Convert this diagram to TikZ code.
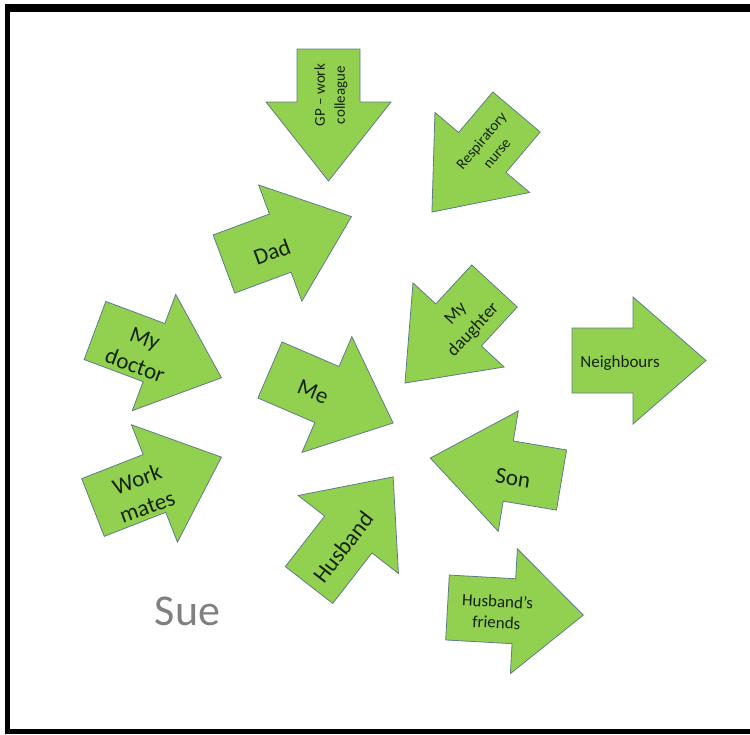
\documentclass[tikz,border=0pt]{standalone}
\usepackage{fontspec}
\setmainfont{Carlito}
\definecolor{arrowfill}{RGB}{146,208,80}
\definecolor{arrowline}{RGB}{95,125,135}
\definecolor{labelc}{RGB}{20,35,10}
\definecolor{suegray}{RGB}{128,128,128}
% name, x, y (tail centre), angle, length, head length, half shaft width, half head width
\newcommand{\grarrow}[8]{%
  \begin{scope}[shift={(#2,#3)},rotate=#4]
    \coordinate (#1) at (0,0);
    \draw[arrowbody] (0,-#7) -- ({#5-#6},-#7) -- ({#5-#6},-#8) -- (#5,0)
      -- ({#5-#6},#8) -- ({#5-#6},#7) -- (0,#7) -- cycle;
  \end{scope}}
\begin{document}
\begin{tikzpicture}[x=1pt,y=-1pt,
  arrowbody/.style={fill=arrowfill,draw=arrowline,line width=0.8pt,line join=miter},
  lbl/.style={text=labelc,align=center,inner sep=0pt},
  bigtxt/.style={font=\fontsize{23}{29}\selectfont},
  smalltxt/.style={font=\fontsize{15}{20}\selectfont}]
\useasboundingbox (0,0) rectangle (750,734);
\fill[white] (0,0) rectangle (750,734);
% frame
\fill[black] (5,4) rectangle (750,12);
\fill[black] (5,4) rectangle (10,734);
\fill[black] (5,729) rectangle (750,734);
% arrows
\grarrow{agp}{328.5}{49}{-90}{132}{79}{31.5}{62.5}
\grarrow{aresp}{516.5}{112}{-130.2}{131}{78}{31}{62}
\grarrow{adad}{224}{264}{20.4}{136}{76}{31}{62}
\grarrow{adoc}{95}{330.5}{-20.5}{135}{72}{31}{62}
\grarrow{ame}{270}{370}{-23.3}{134}{72}{30.5}{63}
\grarrow{awork}{93}{507.5}{21.4}{138}{72}{31}{63}
\grarrow{adau}{494.5}{286}{-132.7}{132}{79}{31}{62}
\grarrow{anei}{572}{360.5}{0}{134}{73}{32.5}{63.5}
\grarrow{ason}{561.5}{480}{170.5}{133}{79}{30.5}{61}
\grarrow{ahus}{309}{585}{52.1}{137}{73}{30}{63.5}
\grarrow{ahf}{447.5}{607.5}{-3.2}{136}{69.5}{32.5}{62.5}
% labels
\node[lbl,smalltxt,rotate=90] (tgp) at (331,95) {GP – work\\colleague};
\node[lbl,smalltxt,rotate=50] (tresp) at (489,147) {Respiratory\\nurse};
\node[lbl,bigtxt,rotate=20] (tdad) at (272,252) {Dad};
\node[lbl,bigtxt,rotate=-20] (tdoc) at (140,352) {My\\doctor};
\node[lbl,bigtxt,rotate=-22] (tme) at (313,392) {Me};
\node[lbl,bigtxt,rotate=20] (twork) at (142,493) {Work\\mates};
\node[lbl,font=\fontsize{18}{24}\selectfont,rotate=47] (tdau) at (465,322) {My\\daughter};
\node[lbl,font=\fontsize{17}{21}\selectfont] (tnei) at (620,363) {Neighbours};
\node[lbl,bigtxt,rotate=-9] (tson) at (513,478) {Son};
\node[lbl,bigtxt,rotate=52] (thus) at (343,547) {Husband};
\node[lbl,font=\fontsize{17}{21}\selectfont,rotate=-3] (thf) at (497,612) {Husband’s\\friends};
\node[text=suegray,font=\fontsize{44}{50}\selectfont,inner sep=0pt,anchor=base] (tsue) at (187.5,625) {Sue};
\end{tikzpicture}
\end{document}
